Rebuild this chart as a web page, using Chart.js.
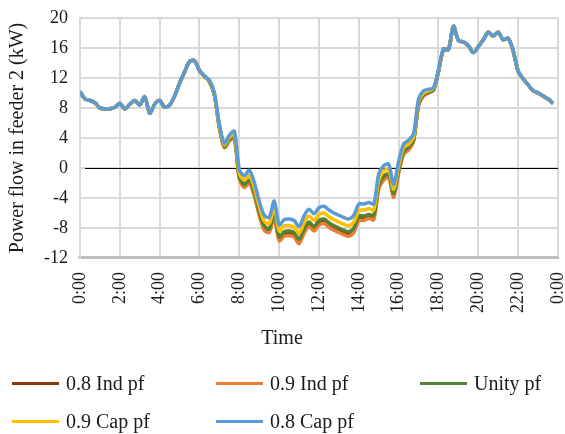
<!DOCTYPE html>
<html>
<head>
<meta charset="utf-8">
<script src="https://cdn.jsdelivr.net/npm/chart.js@4.4.0/dist/chart.umd.min.js"></script>
<style>
  html, body { margin: 0; padding: 0; background: #fff; }
  #wrap { position: relative; width: 565px; height: 434px; }
  #legend {
    position: absolute; left: 12px; top: 364px;
    display: grid; grid-template-columns: 204px 204px 150px;
    font: 20px "Liberation Serif", "Times New Roman", serif; color: #1a1a1a;
  }
  .item { display: flex; align-items: center; height: 38px; white-space: nowrap; }
  .swatch { width: 47px; height: 3px; margin-right: 7px; }
</style>
</head>
<body>
<div id="wrap">
  <canvas id="chart" width="565" height="434"></canvas>
  <div id="legend"></div>
</div>
<script>
// time of day in hours, one sample every 15 minutes
var hours = Array.from({ length: 96 }, function (_, i) { return i / 4; });

var seriesNames = ['0.8 Ind pf', '0.9 Ind pf', 'Unity pf', '0.9 Cap pf', '0.8 Cap pf'];
var seriesColors = ['#843c0c', '#ed7d31', '#548235', '#ffc000', '#5b9bd5'];

var ind08 = [
  10.2, 9.2, 9.0, 8.7, 8.0, 7.9, 7.9, 8.1,
  8.6, 7.9, 8.5, 9.0, 8.4, 9.5, 7.3, 8.5,
  9.0, 8.1, 8.4, 9.6, 11.3, 12.8, 14.2, 14.3,
  13.0, 12.2, 11.5, 9.7, 5.4, 2.8, 3.7, 4.1,
  -1.3, -2.4, -1.8, -3.5, -6.0, -8.0, -8.4, -6.2,
  -9.4, -8.8, -8.7, -8.9, -9.8, -8.4, -7.5, -8.1,
  -7.3, -7.1, -7.6, -8.0, -8.3, -8.6, -8.8, -8.3,
  -6.7, -6.7, -6.4, -6.6, -2.5, -1.3, -1.1, -3.6,
  -0.4, 2.0, 2.6, 3.7, 8.4, 9.7, 10.1, 10.4,
  12.9, 15.8, 15.8, 18.9, 17.0, 16.8, 16.3, 15.4,
  16.2, 17.1, 18.1, 17.6, 18.1, 17.1, 17.3, 15.6,
  12.9, 11.9, 11.1, 10.3, 10.0, 9.6, 9.2, 8.6
];
var ind09 = [
  10.2, 9.2, 9.0, 8.7, 8.0, 7.9, 7.9, 8.1,
  8.6, 7.9, 8.5, 9.0, 8.4, 9.5, 7.3, 8.5,
  9.0, 8.1, 8.4, 9.6, 11.3, 12.8, 14.2, 14.3,
  13.0, 12.2, 11.5, 9.7, 5.3, 2.7, 3.6, 3.9,
  -1.5, -2.6, -2.0, -3.7, -6.3, -8.3, -8.6, -6.5,
  -9.7, -9.1, -9.0, -9.2, -10.1, -8.7, -7.8, -8.4,
  -7.6, -7.4, -7.9, -8.3, -8.6, -8.9, -9.1, -8.6,
  -7.0, -7.0, -6.7, -6.9, -2.8, -1.6, -1.3, -3.9,
  -0.6, 1.8, 2.4, 3.6, 8.3, 9.6, 10.0, 10.4,
  12.9, 15.8, 15.8, 18.9, 17.0, 16.8, 16.3, 15.4,
  16.2, 17.1, 18.1, 17.6, 18.1, 17.1, 17.3, 15.6,
  12.9, 11.9, 11.1, 10.3, 10.0, 9.6, 9.2, 8.6
];
var unity = [
  10.2, 9.2, 9.0, 8.7, 8.0, 7.9, 7.9, 8.1,
  8.6, 7.9, 8.5, 9.0, 8.4, 9.5, 7.3, 8.5,
  9.0, 8.1, 8.4, 9.6, 11.3, 12.8, 14.2, 14.3,
  13.0, 12.2, 11.5, 9.7, 5.5, 2.9, 3.8, 4.2,
  -1.1, -2.2, -1.6, -3.2, -5.8, -7.7, -8.1, -5.9,
  -9.2, -8.5, -8.4, -8.6, -9.5, -8.1, -7.2, -7.8,
  -7.0, -6.8, -7.3, -7.7, -8.0, -8.3, -8.5, -8.0,
  -6.4, -6.4, -6.2, -6.3, -2.3, -1.1, -0.8, -3.4,
  -0.2, 2.2, 2.8, 3.8, 8.6, 9.8, 10.1, 10.4,
  13.0, 15.8, 15.8, 18.9, 17.0, 16.8, 16.3, 15.4,
  16.2, 17.1, 18.1, 17.6, 18.1, 17.1, 17.3, 15.6,
  12.9, 11.9, 11.1, 10.3, 10.0, 9.6, 9.2, 8.6
];
var cap09 = [
  10.2, 9.2, 9.0, 8.7, 8.0, 7.9, 7.9, 8.1,
  8.6, 7.9, 8.5, 9.0, 8.4, 9.5, 7.3, 8.5,
  9.0, 8.1, 8.4, 9.6, 11.3, 12.8, 14.2, 14.3,
  13.0, 12.3, 11.6, 9.9, 5.6, 3.1, 4.1, 4.5,
  -0.7, -1.6, -1.0, -2.6, -5.1, -7.1, -7.4, -5.2,
  -8.4, -7.7, -7.7, -7.9, -8.7, -7.3, -6.4, -7.0,
  -6.2, -6.0, -6.5, -6.9, -7.2, -7.5, -7.7, -7.2,
  -5.7, -5.6, -5.4, -5.6, -1.6, -0.4, -0.2, -2.8,
  0.3, 2.7, 3.2, 4.2, 8.9, 10.0, 10.3, 10.6,
  13.0, 15.9, 15.8, 18.9, 17.0, 16.8, 16.3, 15.4,
  16.2, 17.1, 18.1, 17.6, 18.1, 17.1, 17.3, 15.6,
  12.9, 11.9, 11.1, 10.3, 10.0, 9.6, 9.2, 8.6
];
var cap08 = [
  10.2, 9.2, 9.0, 8.7, 8.0, 7.9, 7.9, 8.1,
  8.6, 7.9, 8.5, 9.0, 8.4, 9.5, 7.3, 8.5,
  9.0, 8.1, 8.4, 9.6, 11.3, 12.8, 14.2, 14.3,
  13.0, 12.3, 11.7, 10.0, 5.8, 3.3, 4.4, 4.9,
  -0.2, -1.0, -0.3, -1.9, -4.4, -6.3, -6.6, -4.4,
  -7.6, -6.9, -6.8, -7.0, -7.8, -6.4, -5.5, -6.1,
  -5.3, -5.1, -5.6, -6.0, -6.3, -6.6, -6.8, -6.3,
  -4.8, -4.8, -4.6, -4.8, -0.8, 0.3, 0.5, -2.2,
  0.9, 3.2, 3.7, 4.6, 9.2, 10.3, 10.5, 10.7,
  13.1, 15.9, 15.8, 18.9, 17.0, 16.8, 16.3, 15.4,
  16.2, 17.1, 18.1, 17.6, 18.1, 17.1, 17.3, 15.6,
  12.9, 11.9, 11.1, 10.3, 10.0, 9.6, 9.2, 8.6
];
var seriesValues = [ind08, ind09, unity, cap09, cap08];

var yMin = -12, yMax = 20, yStep = 4;
var xMin = 0, xMax = 24, xStep = 2;

var serif = '"Liberation Serif", "Times New Roman", serif';
var textColor = '#1a1a1a';

// black line along y = 0
var zeroLine = {
  id: 'zeroLine',
  beforeDatasetsDraw: function (chart) {
    var ctx = chart.ctx, area = chart.chartArea;
    var y = Math.round(chart.scales.y.getPixelForValue(0)) + 0.5;
    ctx.save();
    ctx.strokeStyle = '#000';
    ctx.lineWidth = 1;
    ctx.beginPath();
    ctx.moveTo(area.left + 5, y);
    ctx.lineTo(area.right, y);
    ctx.stroke();
    ctx.restore();
  }
};

var datasets = seriesNames.map(function (name, i) {
  return {
    label: name,
    data: seriesValues[i].map(function (v, j) { return { x: hours[j], y: v }; }),
    borderColor: seriesColors[i],
    backgroundColor: seriesColors[i],
    borderWidth: 3.5,
    pointRadius: 0,
    tension: 0.3,
    fill: false,
    order: seriesNames.length - i
  };
});

var chart = new Chart(document.getElementById('chart').getContext('2d'), {
  type: 'line',
  data: { datasets: datasets },
  options: {
    responsive: false,
    animation: false,
    layout: { padding: { left: 6, right: 7, top: 18, bottom: 83 } },
    plugins: {
      legend: { display: false },
      tooltip: { enabled: false },
      title: {
        display: true,
        text: 'Time',
        position: 'bottom',
        color: textColor,
        font: { family: serif, size: 20, weight: 'normal' },
        padding: { top: 0, bottom: 0 }
      }
    },
    scales: {
      x: {
        type: 'linear',
        min: xMin,
        max: xMax,
        grid: { color: '#d9d9d9', lineWidth: 2, drawTicks: false },
        border: { color: '#bfbfbf', width: 3 },
        ticks: {
          stepSize: xStep,
          minRotation: 90,
          maxRotation: 90,
          padding: 14,
          color: textColor,
          font: { family: serif, size: 18 },
          callback: function (v) { return (v % 24) + ':00'; }
        },
        afterFit: function (scale) { scale.paddingLeft = 0; scale.paddingRight = 0; }
      },
      y: {
        min: yMin,
        max: yMax,
        grid: { color: '#d9d9d9', lineWidth: 2, drawTicks: false },
        border: { color: '#d9d9d9', width: 2 },
        ticks: {
          stepSize: yStep,
          padding: 12,
          color: textColor,
          font: { family: serif, size: 18 }
        },
        title: {
          display: true,
          text: 'Power flow in feeder 2 (kW)',
          color: textColor,
          font: { family: serif, size: 20, weight: 'normal' },
          padding: { top: 0, bottom: 2 }
        },
        afterFit: function (scale) { scale.paddingTop = 0; scale.paddingBottom = 0; }
      }
    }
  },
  plugins: [zeroLine]
});

// legend in three columns below the chart
var legend = document.getElementById('legend');
chart.data.datasets.forEach(function (ds) {
  var item = document.createElement('div');
  item.className = 'item';
  var sw = document.createElement('span');
  sw.className = 'swatch';
  sw.style.background = ds.borderColor;
  var txt = document.createElement('span');
  txt.textContent = ds.label;
  item.appendChild(sw);
  item.appendChild(txt);
  legend.appendChild(item);
});
</script>
</body>
</html>
